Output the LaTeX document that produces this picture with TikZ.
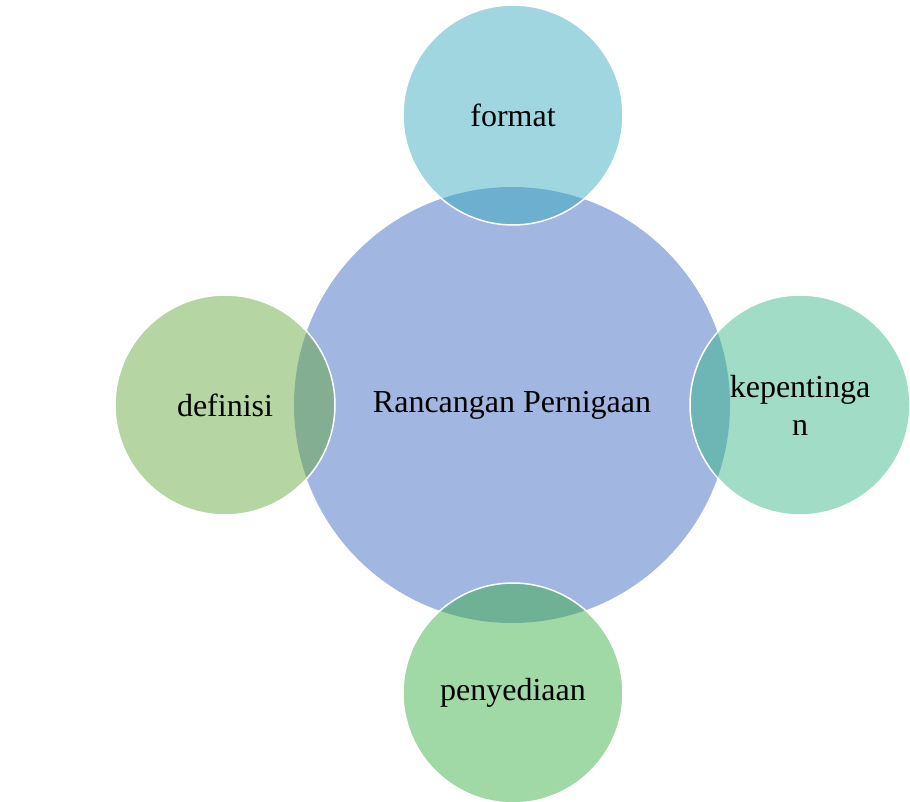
\documentclass[tikz,border=0pt]{standalone}
\usepackage{fontspec}
\setmainfont{Liberation Serif}
\definecolor{hubblue}{RGB}{161,182,224}
\definecolor{teal1}{RGB}{52,168,187}
\definecolor{mint1}{RGB}{53,181,134}
\definecolor{leaf1}{RGB}{53,172,66}
\definecolor{olive1}{RGB}{98,166,60}
\tikzset{
  hub/.style={circle, fill=hubblue, minimum size=436pt, inner sep=0pt},
  petal/.style={circle, draw=white, line width=1.5pt, fill opacity=0.47,
    text opacity=1, minimum size=220pt, inner sep=0pt, align=center},
}

\begin{document}
\begin{tikzpicture}[x=1pt, y=1pt, font=\fontsize{32}{38}\selectfont]
\useasboundingbox (0,0) rectangle (910,801);
\node[hub] (pusat) at (512,396) {};
\node[petal, fill=teal1] (format) at (513,686) {format};
\node[petal, fill=mint1] (penting) at (800,396) {kepentinga\\n};
\node[petal, fill=leaf1] (sedia) at (513,108) {penyediaan};
\node[petal, fill=olive1] (takrif) at (225,396) {definisi};
\node at (pusat) {Rancangan Pernigaan};
\end{tikzpicture}
\end{document}
